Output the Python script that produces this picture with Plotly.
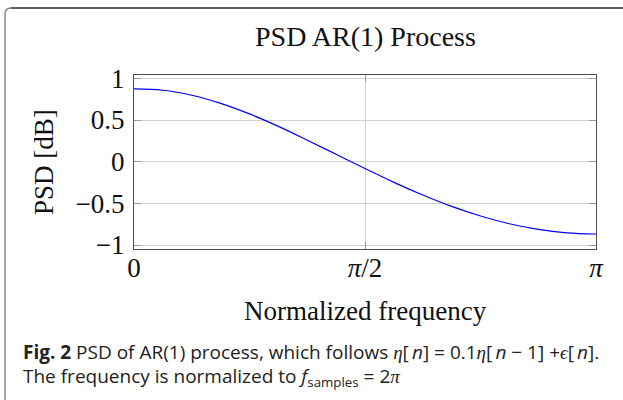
import numpy as np
import plotly.graph_objects as go

# ---- data ----
freq_over_pi = [0, 0.0625, 0.125, 0.1875, 0.25, 0.3125, 0.375, 0.4375, 0.5,
                0.5625, 0.625, 0.6875, 0.75, 0.8125, 0.875, 0.9375, 1.0]
psd_db = [0.873, 0.857, 0.797, 0.700, 0.573, 0.423, 0.258, 0.088, -0.083,
          -0.248, -0.400, -0.537, -0.652, -0.745, -0.813, -0.855, -0.868]

x_tick_vals = [0, np.pi / 2, np.pi]
x_tick_text = ["0", "<i>π</i>/2", "<i>π</i>"]
y_tick_vals = [-1, -0.5, 0, 0.5, 1]
y_tick_text = ["−1", "−0.5", "0", "0.5", "1"]

title_text = "PSD AR(1) Process"
x_title = "Normalized frequency"
y_title = "PSD [dB]"

SERIF = "Liberation Serif, Times New Roman, serif"
SANS = "Open Sans, Noto Sans, sans-serif"


def m(s):
    return f'<span style="font-family:{SERIF}"><i>{s}</i></span>'


ts = "\u2009"
caption_1 = ("<b>Fig. 2</b> PSD of AR(1) process, which follows "
             f"{m('η')}[{ts}<i>n</i>] = 0.1{m('η')}[{ts}<i>n</i> − 1] +{m('ϵ')}[{ts}<i>n</i>].")
caption_2 = f"The frequency is normalized to <i>f</i><sub>samples</sub> = 2{m('π')}"

W, H = 623, 400
L, R, T, B = 134, 596, 75, 249  # plot area in pixels


def px(x):
    return (x - L) / (R - L)


def py(y):
    return (B - y) / (B - T)


fig = go.Figure()
fig.add_trace(go.Scatter(
    x=np.array(freq_over_pi) * np.pi, y=psd_db, mode="lines",
    line=dict(color="#0000ff", width=1.2, shape="spline"),
    showlegend=False, hoverinfo="skip"))

axis_common = dict(
    showline=True, linecolor="#4d4d4d", linewidth=1.2, mirror="ticks",
    ticks="inside", ticklen=7, tickcolor="#9a9a9a", tickwidth=1,
    showgrid=True, gridcolor="#d2d2d2", gridwidth=1, zeroline=False,
    tickfont=dict(family=SERIF, size=27, color="#111"),
)

fig.update_xaxes(range=[0, np.pi], tickmode="array", tickvals=x_tick_vals,
                 ticktext=x_tick_text, ticklabelstandoff=-6, **axis_common)
fig.update_yaxes(range=[-1.048, 1.040], tickmode="array", tickvals=y_tick_vals,
                 ticktext=y_tick_text, ticklabelstandoff=3, **axis_common)

ann = []
ann.append(dict(text=title_text, x=0.5, y=py(37), xref="paper", yref="paper",
                xanchor="center", yanchor="middle", showarrow=False,
                font=dict(family=SERIF, size=28, color="#111")))
ann.append(dict(text=x_title, x=0.5, y=py(311), xref="paper", yref="paper",
                xanchor="center", yanchor="middle", showarrow=False,
                font=dict(family=SERIF, size=27, color="#111")))
ann.append(dict(text=y_title, x=px(44), y=0.5, xref="paper", yref="paper",
                xanchor="center", yanchor="middle", showarrow=False, textangle=-90,
                font=dict(family=SERIF, size=27, color="#111")))
ann.append(dict(text=caption_1, x=px(21), y=py(352), xref="paper", yref="paper",
                xanchor="left", yanchor="middle", showarrow=False, align="left",
                font=dict(family=SANS, size=19, color="#222")))
ann.append(dict(text=caption_2, x=px(21), y=py(377), xref="paper", yref="paper",
                xanchor="left", yanchor="middle", showarrow=False, align="left",
                font=dict(family=SANS, size=19, color="#222")))

shapes = []
# rounded outer border (left edge + corner) and top edge
shapes.append(dict(type="path", xref="paper", yref="paper",
                   path=f"M {px(5)} {py(420)} L {px(5)} {py(14)} Q {px(5)} {py(8)} {px(11)} {py(8)}",
                   line=dict(color="#7a7a7a", width=1.3)))
shapes.append(dict(type="line", xref="paper", yref="paper",
                   x0=px(11), x1=px(640), y0=py(8), y1=py(8),
                   line=dict(color="#2a2a2a", width=1.3)))

fig.update_layout(
    width=W, height=H, margin=dict(l=L, r=W - R, t=T, b=H - B),
    paper_bgcolor="white", plot_bgcolor="white",
    annotations=ann, shapes=shapes, showlegend=False,
)

fig.write_html("out.html")
